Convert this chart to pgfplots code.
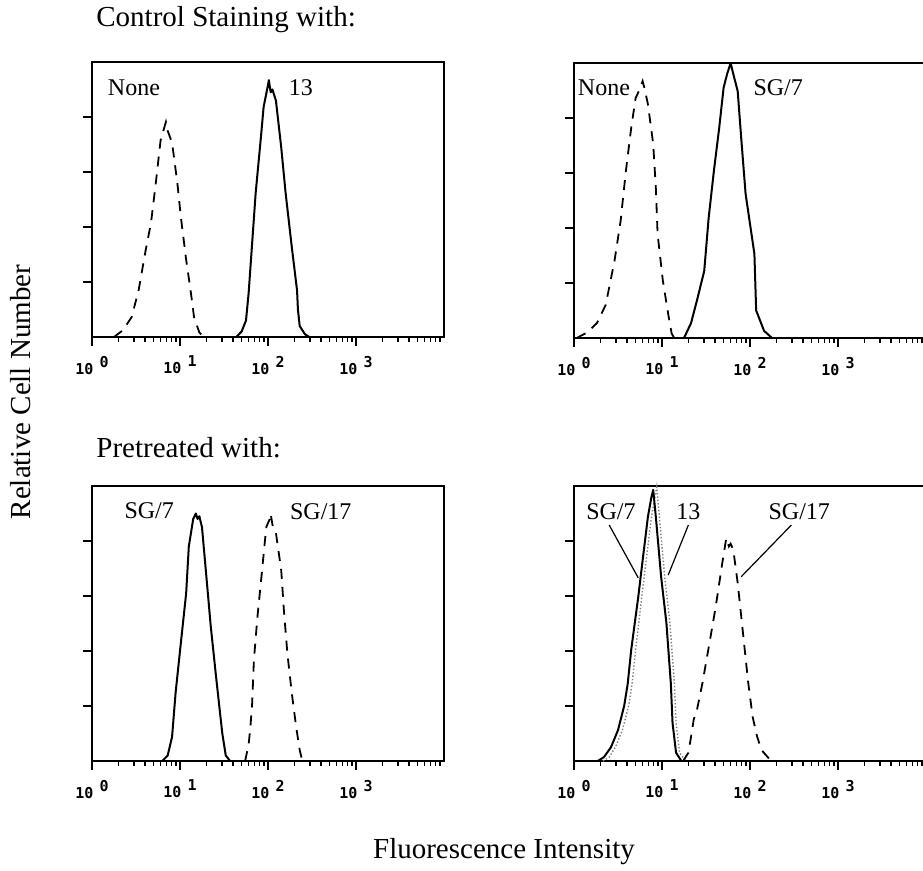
\documentclass[border=0pt]{standalone}
\usepackage{fontspec}
\setmainfont{Liberation Serif}
\newfontfamily\tickfont{DejaVu Sans Mono}
\usepackage{pgfplots}
\pgfplotsset{compat=1.18}

% decade tick label, printer style
\newcommand{\dec}[1]{{\tickfont\bfseries\fontsize{7.5}{8}\selectfont 10\hspace{3pt}\raisebox{3.5pt}{#1}}}

\tikzset{
  solidc/.style={black, line width=1pt, line join=round},
  dashc/.style={black, line width=0.9pt, dash pattern=on 5pt off 4pt},
  lab/.style={font=\fontsize{12}{14}\selectfont},
  big/.style={font=\fontsize{14.5}{17}\selectfont},
}

\begin{document}
\begin{tikzpicture}
\useasboundingbox (0,0) rectangle (461.5pt,435.5pt);

\node[anchor=west, big, inner sep=0pt] at (48pt,425.5pt) {Control Staining with:};
\node[anchor=west, big, inner sep=0pt] at (48pt,211.5pt) {Pretreated with:};
\node[rotate=90, big, inner sep=0pt] at (10.5pt,239.5pt) {Relative Cell Number};
\node[big, inner sep=0pt] at (252pt,9.5pt) {Fluorescence Intensity};

% top left
\begin{axis}[
    at={(46pt,267pt)}, anchor=south west,
    scale only axis, width=176pt, height=137.5pt,
    xmode=log, xmin=1, xmax=10000, ymin=0, ymax=5,
    xtick={1,10,100,1000},
    xticklabels={\dec{0},\dec{1},\dec{2},\dec{3}},
    minor xtick={2,3,4,5,6,7,8,9,20,30,40,50,60,70,80,90,200,300,400,500,600,700,800,900,2000,3000,4000,5000,6000,7000,8000,9000},
    ytick={1,2,3,4}, yticklabels={},
    xtick pos=left, ytick pos=left,
    tick align=outside, major tick length=4.5pt, minor tick length=2.5pt,
    every tick/.style={black, line width=0.6pt},
    axis line style={line width=0.7pt},
    xticklabel style={yshift=-1.5pt},
    clip=false]
  \addplot[dashc] coordinates {
    (1.778,0) (2.239,0.12) (2.818,0.36) (3.388,0.85) (4.074,1.58) (4.677,2.07)
    (5.248,2.73) (6.026,3.58) (6.918,3.91) (7.244,3.75) (8.128,3.53) (9.333,2.8)
    (10.23,2.18) (11.75,1.4) (13.18,0.85) (14.45,0.36) (16.6,0.08) (18.62,0)
  };
  \addplot[solidc] coordinates {
    (43.65,0) (50.12,0.1) (56.23,0.3) (60.26,0.8) (66.07,1.71) (72.44,2.62)
    (83.18,3.64) (89.13,4.18) (97.72,4.5) (102.3,4.67) (107.2,4.45) (112.2,4.5)
    (123.0,4.3) (141.3,3.45) (158.5,2.62) (186.2,1.64) (213.8,0.85) (218.8,0.5)
    (229.1,0.2) (263.0,0.05) (295.1,0)
  };
  \node[lab] at (axis cs:3.0,4.53) {None};
  \node[lab] at (axis cs:237,4.53) {13};
\end{axis}

% top right
\begin{axis}[
    at={(287pt,266.5pt)}, anchor=south west,
    scale only axis, width=176pt, height=137.5pt,
    xmode=log, xmin=1, xmax=10000, ymin=0, ymax=5,
    xtick={1,10,100,1000},
    xticklabels={\dec{0},\dec{1},\dec{2},\dec{3}},
    minor xtick={2,3,4,5,6,7,8,9,20,30,40,50,60,70,80,90,200,300,400,500,600,700,800,900,2000,3000,4000,5000,6000,7000,8000,9000},
    ytick={1,2,3,4}, yticklabels={},
    xtick pos=left, ytick pos=left,
    tick align=outside, major tick length=4.5pt, minor tick length=2.5pt,
    every tick/.style={black, line width=0.6pt},
    axis line style={line width=0.7pt},
    xticklabel style={yshift=-1.5pt},
    clip=false]
  \addplot[dashc] coordinates {
    (1.072,0) (1.413,0.1) (1.820,0.27) (2.291,0.6) (2.884,1.4) (3.388,2.13)
    (3.890,3.04) (4.467,3.82) (5.012,4.36) (5.495,4.5) (6.026,4.67) (6.310,4.55)
    (6.918,4.25) (7.943,3.53) (8.511,2.73) (8.913,1.89) (10.23,1.04) (11.75,0.44)
    (12.88,0.08) (13.80,0)
  };
  \addplot[solidc] coordinates {
    (17.78,0) (21.38,0.27) (25.12,0.7) (30.20,1.22) (33.88,2.18) (38.90,3.04)
    (44.67,3.82) (50.12,4.55) (54.95,4.8) (60.26,5.0) (64.57,4.8) (72.44,4.49)
    (79.43,3.64) (89.13,2.62) (112.2,1.53) (117.5,0.5) (144.5,0.13) (177.8,0)
  };
  \node[lab] at (axis cs:2.19,4.55) {None};
  \node[lab] at (axis cs:209,4.55) {SG/7};
\end{axis}

% bottom left
\begin{axis}[
    at={(46pt,55pt)}, anchor=south west,
    scale only axis, width=176pt, height=137.5pt,
    xmode=log, xmin=1, xmax=10000, ymin=0, ymax=5,
    xtick={1,10,100,1000},
    xticklabels={\dec{0},\dec{1},\dec{2},\dec{3}},
    minor xtick={2,3,4,5,6,7,8,9,20,30,40,50,60,70,80,90,200,300,400,500,600,700,800,900,2000,3000,4000,5000,6000,7000,8000,9000},
    ytick={1,2,3,4}, yticklabels={},
    xtick pos=left, ytick pos=left,
    tick align=outside, major tick length=4.5pt, minor tick length=2.5pt,
    every tick/.style={black, line width=0.6pt},
    axis line style={line width=0.7pt},
    xticklabel style={yshift=-1.5pt},
    clip=false]
  \addplot[solidc] coordinates {
    (6.310,0) (7.244,0.1) (8.128,0.44) (8.913,1.24) (10.23,2.15) (11.75,3.05)
    (12.59,3.9) (14.13,4.4) (15.14,4.5) (15.85,4.4) (16.60,4.45) (17.78,4.25)
    (19.95,3.35) (22.39,2.44) (25.70,1.53) (30.20,0.51) (33.11,0.1) (37.15,0)
  };
  \addplot[dashc] coordinates {
    (54.95,0) (60.26,0.3) (63.10,0.62) (66.07,1.05) (69.18,1.84) (75.86,2.62)
    (85.11,3.42) (95.50,4.25) (104.7,4.4) (107.2,4.5) (112.2,4.3) (123.0,4.15)
    (141.3,3.47) (151.4,2.75) (166.0,1.96) (186.2,1.24) (208.9,0.62) (229.1,0.2)
    (245.5,0)
  };
  \node[lab] at (axis cs:4.47,4.56) {SG/7};
  \node[lab] at (axis cs:398,4.53) {SG/17};
\end{axis}

% bottom right
\begin{axis}[
    at={(287pt,55pt)}, anchor=south west,
    scale only axis, width=176pt, height=137.5pt,
    xmode=log, xmin=1, xmax=10000, ymin=0, ymax=5,
    xtick={1,10,100,1000},
    xticklabels={\dec{0},\dec{1},\dec{2},\dec{3}},
    minor xtick={2,3,4,5,6,7,8,9,20,30,40,50,60,70,80,90,200,300,400,500,600,700,800,900,2000,3000,4000,5000,6000,7000,8000,9000},
    ytick={1,2,3,4}, yticklabels={},
    xtick pos=left, ytick pos=left,
    tick align=outside, major tick length=4.5pt, minor tick length=2.5pt,
    every tick/.style={black, line width=0.6pt},
    axis line style={line width=0.7pt},
    xticklabel style={yshift=-1.5pt},
    clip=false]
  \addplot[gray, line width=0.7pt, densely dotted] coordinates {
    (2.138,0) (2.512,0.07) (2.951,0.25) (3.548,0.56) (4.169,1.0) (4.571,1.4)
    (5.012,2.02) (5.888,2.98) (6.607,3.65) (7.586,4.44) (8.318,4.8) (8.710,4.98)
    (9.333,4.44) (10.72,3.35) (12.30,2.51) (13.80,1.42) (14.45,0.69) (15.85,0.15)
    (18.62,0)
  };
  \addplot[solidc] coordinates {
    (1.862,0) (2.188,0.07) (2.630,0.25) (3.162,0.56) (3.715,1.0) (4.074,1.4)
    (4.467,2.02) (5.370,2.98) (6.026,3.65) (6.918,4.44) (7.586,4.8) (7.943,4.93)
    (8.511,4.44) (9.772,3.35) (11.22,2.51) (12.59,1.42) (13.18,0.69) (14.45,0.15)
    (16.60,0)
  };
  \addplot[dashc] coordinates {
    (17.38,0) (19.95,0.15) (21.38,0.44) (22.91,0.75) (25.12,0.95) (28.84,1.42)
    (34.67,2.15) (40.74,2.8) (48.98,3.65) (53.70,4.05) (57.54,3.9) (60.26,3.95)
    (64.57,3.84) (72.44,3.24) (83.18,2.33) (95.50,1.42) (107.2,0.8) (120.2,0.45)
    (134.9,0.2) (173.8,0)
  };
  \draw[line width=0.6pt] (axis cs:2.512,4.29) -- (axis cs:5.370,3.33);
  \draw[line width=0.6pt] (axis cs:19.95,4.29) -- (axis cs:11.75,3.38);
  \draw[line width=0.6pt] (axis cs:295.1,4.29) -- (axis cs:79.43,3.35);
  \node[lab] at (axis cs:2.63,4.53) {SG/7};
  \node[lab] at (axis cs:19.95,4.53) {13};
  \node[lab] at (axis cs:363,4.53) {SG/17};
\end{axis}
\end{tikzpicture}
\end{document}
